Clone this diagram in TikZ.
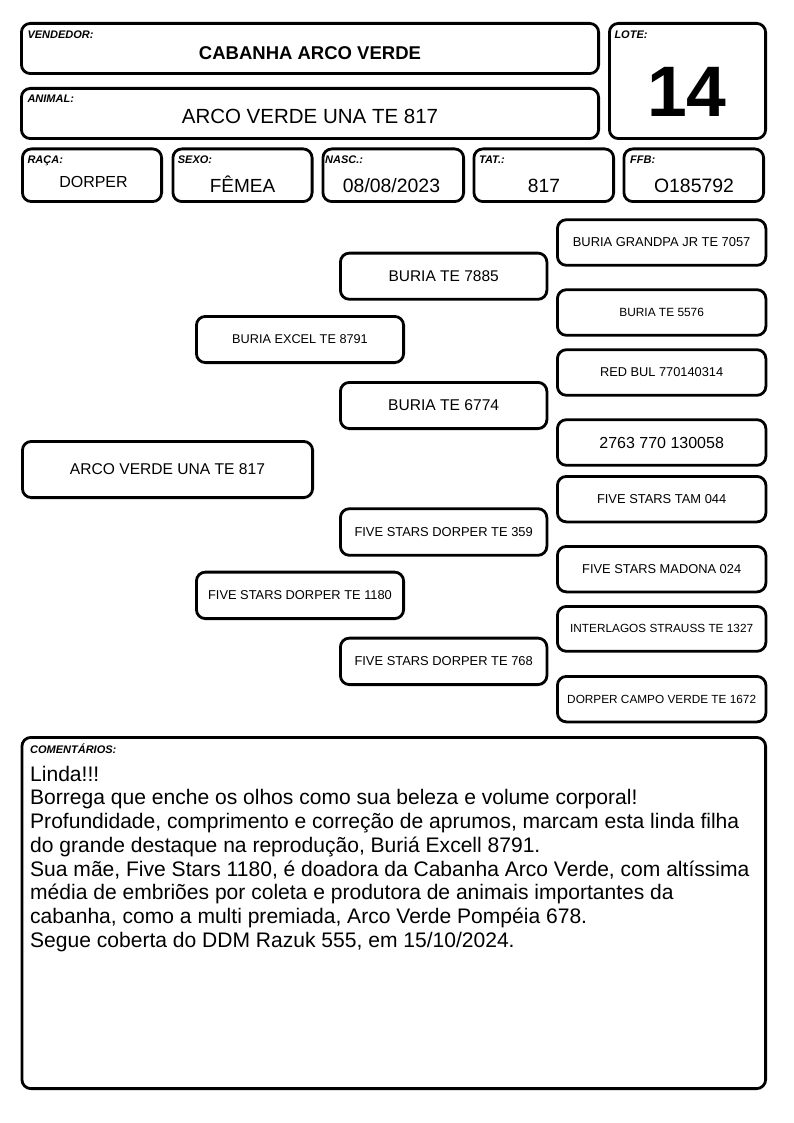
\documentclass[tikz,border=0pt]{standalone}
\usepackage{fontspec}
\setmainfont{Liberation Sans}
\tikzset{
  box/.style={draw, line width=2.8pt, rounded corners=9pt, inner sep=0pt, fill=white, align=center},
  lbl/.style={anchor=base west, inner sep=0pt, font=\fontsize{11}{12}\selectfont\bfseries\itshape},
  val/.style={anchor=base, inner sep=0pt},
  cmt/.style={anchor=base west, inner sep=0pt, font=\fontsize{21.05}{24}\selectfont},
}
\newcommand\bx[5]{\node[box,minimum width={#3-#1-2.8},minimum height={#4-#2-2.8}] (#5) at ({(#1+#3)/2},{(#2+#4)/2}) {};}
\newcommand\pb[7]{\node[box,minimum width={#4-#2-2.8},minimum height={#5-#3-2.8},font=\fontsize{#6}{#6}\selectfont] (#1) at ({(#2+#4)/2},{(#3+#5)/2}) {#7};}
\begin{document}
\begin{tikzpicture}[x=1pt,y=-1pt]
\fill[white] (0,0) rectangle (794,1123);
\useasboundingbox (0,0) rectangle (794,1123);
% header
\bx{20}{22}{600}{75}{vend}
\bx{20}{87}{600}{140}{anim}
\bx{608}{22}{767}{140}{lote}
\bx{21}{147.5}{163}{203}{raca}
\bx{171.5}{147.5}{313.5}{203}{sexo}
\bx{321.5}{147.5}{465}{203}{nasc}
\bx{472.5}{147.5}{615}{203}{tat}
\bx{622.5}{147.5}{765}{203}{ffb}
\node[lbl] (lvend) at (27.3,39) {VENDEDOR:};
\node[val,font=\fontsize{18.5}{20}\selectfont\bfseries] (tvend) at (310,60) {CABANHA ARCO VERDE};
\node[lbl] (lanim) at (27.3,103) {ANIMAL:};
\node[val,font=\fontsize{20.5}{22}\selectfont] (tanim) at (310,123.3) {ARCO VERDE UNA TE 817};
\node[lbl] (llote) at (614.3,39) {LOTE:};
\node[val,font=\fontsize{71.5}{72}\selectfont\bfseries] (tlote) at (687,117) {14};
\node[lbl] (lraca) at (27.3,164) {RAÇA:};
\node[lbl] (lsexo) at (177.7,164) {SEXO:};
\node[lbl] (lnasc) at (325,164) {NASC.:};
\node[lbl] (ltat) at (479,164) {TAT.:};
\node[lbl] (lffb) at (630,164) {FFB:};
\node[val,font=\fontsize{16}{18}\selectfont] (traca) at (93.5,187.7) {DORPER};
\node[val,font=\fontsize{19}{21}\selectfont] (tsexo) at (242.5,193) {FÊMEA};
\node[val,font=\fontsize{19.4}{21}\selectfont] (tnasc) at (391.5,193) {08/08/2023};
\node[val,font=\fontsize{19.2}{21}\selectfont] (ttat) at (544,193) {817};
\node[val,font=\fontsize{19.4}{21}\selectfont] (tffb) at (694,193) {O185792};
% pedigree
\pb{g1}{556}{218.3}{767.3}{266.7}{12.9}{BURIA GRANDPA JR TE 7057}
\pb{g2}{556}{288.3}{767.3}{336.7}{11.9}{BURIA TE 5576}
\pb{g3}{556}{348.3}{767.3}{396.7}{12.8}{RED BUL 770140314}
\pb{g4}{556}{418.3}{767.3}{466.7}{16}{2763 770 130058}
\pb{g5}{556}{475}{767.3}{523.3}{12.9}{FIVE STARS TAM 044}
\pb{g6}{556}{545}{767.3}{593.3}{12.85}{FIVE STARS MADONA 024}
\pb{g7}{556}{605}{767.3}{652.7}{11.8}{INTERLAGOS STRAUSS TE 1327}
\pb{g8}{556}{675}{767.3}{723.3}{11.8}{DORPER CAMPO VERDE TE 1672}
\pb{p1}{339}{251.7}{548.3}{300.7}{15.5}{BURIA TE 7885}
\pb{p2}{339}{381}{548.3}{430}{15.6}{BURIA TE 6774}
\pb{p3}{339}{507.3}{548.3}{556.7}{12.9}{FIVE STARS DORPER TE 359}
\pb{p4}{339}{636.7}{548.3}{686}{12.9}{FIVE STARS DORPER TE 768}
\pb{s1}{195}{315}{405}{364}{12.7}{BURIA EXCEL TE 8791}
\pb{s2}{195}{570.7}{405}{620}{12.85}{FIVE STARS DORPER TE 1180}
\pb{an}{21}{440}{314}{499}{15.6}{ARCO VERDE UNA TE 817}
% comments
\bx{20.5}{736}{767}{1090}{cbox}
\node[lbl] (lcmt) at (30,753) {COMENTÁRIOS:};
\node[cmt] (c1) at (30,781) {Linda!!!};
\node[cmt] (c2) at (30,804.8) {Borrega que enche os olhos como sua beleza e volume corporal!};
\node[cmt] (c3) at (30,828.5) {Profundidade, comprimento e correção de aprumos, marcam esta linda filha};
\node[cmt] (c4) at (30,852.3) {do grande destaque na reprodução, Buriá Excell 8791.};
\node[cmt] (c5) at (30,876) {Sua mãe, Five Stars 1180, é doadora da Cabanha Arco Verde, com altíssima};
\node[cmt] (c6) at (30,899.8) {média de embriões por coleta e produtora de animais importantes da};
\node[cmt] (c7) at (30,923.6) {cabanha, como a multi premiada, Arco Verde Pompéia 678.};
\node[cmt] (c8) at (30,947.3) {Segue coberta do DDM Razuk 555, em 15/10/2024.};
\end{tikzpicture}
\end{document}
